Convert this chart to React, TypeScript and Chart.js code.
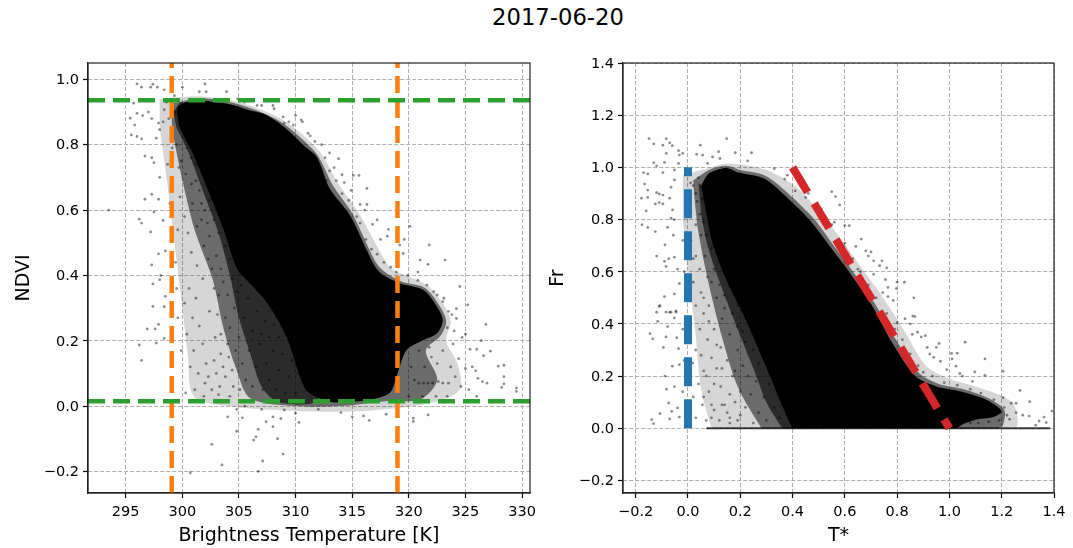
import React, { useEffect, useRef } from "react";
import { Chart, registerables } from "chart.js";

Chart.register(...registerables);

const chartTitle = "2017-06-20";
const FONT = "'DejaVu Sans', sans-serif";

// Left panel
const ndviLimits = { xMin: 291.67, xMax: 330.7, yMin: -0.266, yMax: 1.05 };
const tempMarks = [299.06, 319.0];
const ndviMarks = [0.936, 0.015];

const ndviCore: number[][] = [
  [299.6,.917],[300.3,.93],[301.6,.936],[302.9,.93],[304.2,.924],[306,.905],[307.1,.896],[308.6,.865],[309.8,.829],[310.8,.795],[311.9,.761],[313,.667],[314.8,.584],[316.8,.44],[317.5,.407],[319.2,.376],[321.3,.355],[322.5,.303],[323,.263],[322.5,.223],[321.3,.202],[319.8,.171],[319,.10],[318.3,.04],[316.3,.018],[313.3,.012],[311.7,.03],[310.8,.055],[309.2,.211],[307.5,.315],[305.7,.385],[304.8,.422],[303.6,.544],[302.2,.667],[301,.768],[299.8,.85],[299.5,.899],
];
const ndviDense: number[][] = [
  [299.2,.9],[300,.93],[305,.6],[307,.4],[310,.2],[312,.02],[308.5,.012],[307,.06],[306,.16],[305,.27],[304.2,.4],[303.2,.53],[301.8,.66],[300.5,.78],[299.5,.85],
];
const ndviHalo: number[][] = [
  [299,.925],[301.6,.942],[304.2,.93],[306,.912],[308.6,.872],[310,.835],[311.9,.77],[313.3,.675],[315,.59],[317,.445],[317.8,.413],[319.3,.382],[321.4,.362],[322.7,.308],[323.3,.26],[322.8,.215],[321.5,.17],[322.5,.08],[321,.02],[318,.015],[314,.0],[310,.0],[306,.024],[304.8,.11],[303.6,.242],[302.7,.385],[301.1,.538],[300,.691],[299.1,.844],
];
const ndviSparse: number[][] = [
  [298,.94],[301.6,.948],[304.2,.936],[306,.92],[308.6,.882],[310.3,.84],[312.2,.775],[313.7,.685],[315.6,.59],[317.5,.47],[318.5,.42],[321.5,.372],[323,.315],[323.7,.26],[323.3,.2],[324.3,.13],[324.5,.05],[322,.01],[316,-.015],[310,-.015],[304,.0],[301,.03],[300.5,.15],[300,.3],[299.3,.5],[298.6,.7],[298,.85],
];
const ndviPoints: number[][] = [
  [296,.986],[296.4,.976],[297.4,.985],[297.2,.976],[297.8,.976],[298.4,.968],[300,.976],[302,.986],[301.5,.962],[302.1,.962],[303.9,.962],[295.7,.927],[296,.896],[295.4,.881],[296.5,.889],[297,.9],[297.3,.88],[295.8,.86],[295.5,.83],[296,.825],[296.4,.818],[298,.846],[297.7,.82],[298.3,.87],[298.4,.907],[297.9,.866],[296.7,.765],[297.3,.76],[297.5,.745],[298,.70],[296.7,.633],[297.3,.648],[297.9,.633],[297.5,.595],[293.5,.60],[296.2,.572],[296.4,.56],[297.2,.533],[298.3,.568],[297.9,.466],[297.3,.432],[298.5,.475],
  [297.4,.374],[298,.387],[298.1,.40],[298.5,.336],[297.4,.305],[298.4,.304],[296.9,.236],[297.6,.236],[297.9,.25],[298.4,.207],[297.7,.193],[296.2,.187],[296.4,.14],[300.7,-.204],[302.6,-.117],[303.5,-.18],[306.7,-.2],[307.1,-.168],[308.9,-.147],[308.4,-.10],[306.5,-.094],[306.3,-.104],[306.7,-.071],[304.8,-.077],[305.3,-.036],[304,-.033],[308,-.063],[310.3,-.05],[308,-.033],[308.7,-.038],[307.4,-.048],[310,-.022],
  [324.5,.366],[325.2,.31],[326.8,.25],[326.4,.2],[326,.174],[325.4,.174],[327.2,.168],[326.6,.154],[327.9,.122],[328.4,.125],[325.6,.12],[325.9,.108],[328.4,.09],[326.1,.085],[326.5,.075],[326.9,.07],[328.4,.068],[329.5,.055],[329.5,.045],[328.2,.057],[326,.03],[325.3,.05],[325,.115],[324.4,.145],[325,.22],[324.7,.21],[324.2,.268],[324.2,.298],[323.1,.33],[322.2,.35],[320.4,-.037],[320.4,-.047],[321.7,-.027],[316.5,-.044],[315,-.033],[319,-.033],
  [315.6,.706],[315.1,.706],[316.3,.666],[316.3,.617],[315.7,.617],[316.1,.6],[320.1,.55],[319.6,.51],[321.8,.493],[319.5,.467],[321,.447],[321.7,.434],[323.2,.447],[320.8,.41],[319.2,.493],[318.2,.541],[317.2,.57],[317.5,.51],[318.1,.52],[314.1,.708],[313.8,.757],[313,.775],[312.3,.80],[311.3,.827],[310.6,.87],[315.4,.58],[316.8,.556],[314.9,.66],[314.3,.684],[313.4,.73],[310,.89],[310.5,.876],[309.8,.86],[309,.866],[308,.92],[306.6,.92],[308.1,.91],
  [300.2,.315],[300.6,.36],[300.9,.27],[301.2,.33],[300.4,.22],[301.5,.245],[301,.17],[301.8,.19],[300.7,.12],[301.4,.10],[302.1,.13],[302,.07],[302.6,.05],[303,.10],[303.2,.035],[302.4,.29],[302.9,.21],[303.4,.16],[301.8,.39],[301.3,.43],[300.8,.47],[300.5,.53],[300.2,.58],[300.9,.62],[301.3,.55],[301.9,.49],[302.3,.45],[299.8,.64],[299.6,.54],[299.4,.44],[299.5,.36],[299.6,.27],[299.9,.17],[298.9,.62],[298.7,.74],[299.1,.79],[299.7,.73],[300.3,.71],[300.8,.76],[304.2,.03],[304.5,.06],[303.8,.09],[304.1,.15],[303.1,.28],[302.8,.36],[302.2,.56],[301.7,.62],[301.2,.69],[300.7,.83],[298.8,.88],[298.6,.93],[299.3,.95],
  [320.2,.12],[320.5,.08],[320.9,.07],[321.3,.07],[321.7,.07],[322.1,.07],[322.6,.075],[323,.07],[323.5,.07],[321.4,.12],[322,.15],[322.5,.13],[323,.17],[323.7,.12],[324.1,.09],[324.6,.06],[320.9,.17],[321.8,.18],[323.9,.19],[324,.23],[323.8,.28],[320,.03],[321.2,.03],[322.4,.03],[323.4,.03],[312,-.01],[314,-.02],[316,-.03],[318,-.025],[309,-.012],[307,-.01],[305.5,.0],[304.8,-.01],
  [300.3,.04],[301.1,.05],[301.9,.03],[302.3,.09],[302.8,.14],[303.3,.06],[303.6,.12],[304,.19],[304.4,.11],[304.7,.17],[305.1,.05],[305.3,.13],[305.6,.08],[305.9,.17],[306.2,.06],[306.5,.12],[306.8,.19],[307.1,.05],[307.4,.13],[307.7,.08],[308,.17],[308.3,.05],[308.5,.11],[308.8,.16],[309.1,.04],[309.4,.09],[309.7,.14],[310,.04],[310.3,.1],
  [303.4,.22],[303.8,.27],[304.2,.24],[304.6,.3],[305,.21],[305.4,.27],[305.8,.33],[306.2,.23],[306.6,.29],[307,.22],[307.3,.26],[307.7,.21],[308.1,.25],[308.5,.21],[303.2,.34],[303.6,.38],[304,.34],[304.4,.39],[304.8,.35],[305.2,.37],[302.6,.42],[303,.46],[303.4,.42],[303.8,.49],[304.2,.45],[302.4,.52],[302.8,.57],[303.2,.53],[301.7,.57],[302,.6],[301.5,.66],[301.9,.71],[302.4,.63],[300.8,.68],[301.2,.74],[300.4,.79],[300.9,.81],[300.1,.85],[299.8,.88],[299.3,.9],[299.5,.8],[299.9,.75],
  [311.1,.835],[311.7,.81],[312.6,.76],[313,.72],[313.6,.69],[314.1,.65],[314.7,.63],[315.1,.56],[315.7,.56],[316.2,.51],[316.7,.48],[317.2,.465],[317.8,.44],[318.4,.425],[318.9,.41],[315.5,.53],[316.3,.47],[312.2,.72],[312.7,.69],[319.9,.40],[320.8,.385],[321.6,.37],[322.5,.34],[323,.32],[323.5,.29],[323.4,.24],[307,.92],[308.9,.885],[309.4,.87],[304.9,.94],[305.5,.93],
];

// Right panel
const frLimits = { xMin: -0.2486, xMax: 1.4, yMin: -0.248, yMax: 1.4 };
const wetEdgeX = [0, 0];
const wetEdgeY = [0, 1];
const dryEdgeX = [0.4, 1];
const dryEdgeY = [1, 0];
const baselineX = [0.07, 1.385];
const baselineY = [0, 0];

const frCore: number[][] = [
  [.055,.939],[.082,.978],[.147,.998],[.196,.979],[.273,.964],[.311,.945],[.388,.876],[.464,.80],[.552,.685],[.618,.597],[.706,.467],[.78,.33],[.87,.2],[.948,.161],[1.047,.14],[1.139,.11],[1.2,.065],[1.166,.042],[1.104,.034],[1.05,.015],[1.03,.002],[1.02,0],[.9,0],[.7,0],[.5,0],[.41,0],[.398,.002],[.298,.237],[.22,.417],[.146,.57],[.093,.712],[.07,.826],[.051,.927],
];
const frDense: number[][] = [
  [.04,.94],[.1,.9],[.3,.6],[.45,.3],[.5,.002],[.49,0],[.37,0],[.36,.002],[.3,.1],[.25,.23],[.19,.38],[.125,.55],[.075,.7],[.05,.82],
];
const frHalo: number[][] = [
  [.02,.95],[.08,.99],[.147,1.006],[.2,.99],[.28,.975],[.325,.95],[.4,.885],[.48,.805],[.565,.69],[.635,.595],[.72,.47],[.795,.34],[.88,.215],[.96,.17],[1.055,.15],[1.15,.115],[1.21,.07],[1.205,.012],[1.19,.002],[1.18,0],[.8,0],[.4,0],[.29,0],[.28,.002],[.19,.16],[.13,.35],[.08,.55],[.04,.75],[.025,.88],
];
const frSparse: number[][] = [
  [-.02,.97],[.07,.995],[.15,1.015],[.3,.99],[.42,.92],[.51,.82],[.59,.72],[.66,.62],[.74,.51],[.83,.37],[.91,.24],[1.0,.19],[1.1,.16],[1.24,.1],[1.26,.01],[1.22,.002],[1.2,0],[.7,0],[.1,0],[.09,.002],[.05,.15],[.03,.35],[.0,.6],[-.02,.8],
];
const frPoints: number[][] = [
  [-.149,1.11],[-.083,1.11],[-.131,1.09],[-.096,1.085],[-.07,1.094],[-.06,1.083],[-.083,1.054],[-.036,1.064],[-.02,1.054],[-.033,1.047],[.047,1.085],[.148,1.11],[.033,1.05],[.056,1.047],[.094,1.04],[.117,1.06],[.122,1.034],[.181,1.056],[.243,1.056],[.228,1.025],[.075,1.015],[-.131,1.018],[-.12,1.006],[-.09,1.019],[-.036,1.015],[-.17,.98],[-.154,.975],[-.096,.98],[-.052,.99],[-.166,.936],[-.154,.913],[-.12,.903],[-.11,.898],[-.178,.882],[-.154,.885],[-.096,.894],[-.07,.882],[-.125,.86],[-.11,.865],[-.16,.833],[-.096,.86],[-.065,.924],[-.052,.952],[-.059,.837],[-.065,.805],[-.052,.8],[-.176,.78],[-.154,.77],[-.125,.754],[-.078,.77],[-.056,.74],[-.088,.703],[-.12,.66],[-.09,.64],[-.074,.65],[-.052,.656],[-.084,.62],[-.04,.61],[-.033,.555],[-.052,.515],[-.09,.505],[-.107,.47],[-.12,.445],[-.084,.445],[-.07,.445],[-.046,.45],[-.052,.423],
  [-.11,.467],[-.065,.445],[-.046,.445],[-.116,.41],[-.078,.39],[-.145,.363],[-.135,.343],[-.084,.35],[-.094,.31],[-.043,.347],[-.036,.305],[-.06,.238],[-.033,.244],[-.088,.2],[-.082,.15],[-.052,.16],[-.074,.097],[-.107,.056],[-.062,.065],[-.033,.043],[-.07,.036],[-.139,.033],[-.132,.018],[-.04,.078],
  [.55,.907],[.564,.888],[.58,.856],[.56,.79],[.6,.777],[.617,.777],[.663,.725],[.642,.697],[.68,.68],[.70,.676],[.69,.66],[.71,.642],[.742,.642],[.733,.623],[.76,.615],[.71,.59],[.755,.57],[.8,.56],[.828,.56],[.797,.535],[.765,.54],[.745,.52],[.765,.505],[.864,.5],[.785,.49],[.83,.42],[.86,.43],[.868,.428],[.85,.4],[.80,.405],[.878,.368],[.908,.355],[.858,.36],[.892,.35],[.96,.325],[.95,.31],[1.06,.33],[.915,.31],[1.008,.287],[1.03,.288],[1.01,.266],[1.136,.266],[.925,.285],[.94,.272],[.966,.257],[.99,.225],[1.025,.238],[1.04,.21],[1.05,.2],[1.097,.216],[1.136,.203],[1.205,.219],[1.088,.18],[1.27,.145],[1.205,.117],[1.307,.102],[1.392,.066],[1.255,.096],[1.236,.096],[1.28,.05],[1.305,.047],[1.343,.028],[1.362,.043],[1.33,.012],[1.37,.022],[1.255,.06],[1.23,.035],
  [.02,.93],[.035,.87],[.01,.83],[.03,.78],[.012,.72],[.03,.66],[.045,.61],[.02,.56],[.05,.52],[.03,.47],[.06,.44],[.08,.47],[.045,.38],[.075,.34],[.03,.3],[.09,.27],[.06,.22],[.11,.23],[.04,.17],[.08,.14],[.125,.16],[.055,.09],[.1,.07],[.14,.09],[.03,.04],[.07,.03],[.12,.03],[.16,.04],[.02,.12],[.018,.25],[.01,.37],[.02,.65],[.1,.38],[.125,.31],[.15,.26],[.17,.2],[.13,.42],[.11,.5],[.075,.58],[.065,.66],[.05,.74],[.045,.82],[.18,.1],[.2,.05],[.16,.02],[.01,.94],[-.01,.88],[-.02,.72],[-.015,.6],[-.01,.5],[-.02,.38],[-.015,.26],[-.02,.14],[-.01,.05],[.33,.995],[.38,.97],[.43,.93],[.46,.9],[.51,.84],[.55,.78],[.6,.71],[.63,.65],[.66,.6],
  [.09,.04],[.15,.06],[.19,.03],[.22,.08],[.25,.02],[.27,.06],[.3,.03],[.33,.08],[.35,.04],[.24,.13],[.2,.14],[.26,.18],[.29,.12],[.31,.17],[.34,.13],[.36,.09],[.38,.05],[.16,.13],[.13,.09],[.18,.22],[.21,.24],[.23,.2],[.27,.25],[.19,.3],[.22,.33],[.25,.3],[.16,.36],[.19,.39],[.21,.37],[.14,.46],[.17,.44],[.19,.47],[.12,.55],[.14,.51],[.1,.61],[.12,.65],[.09,.69],[.07,.74],[.06,.79],[.055,.88],[.03,.9],[.04,.96],[.09,.56],[.06,.5],[.08,.41],[.11,.32],[.13,.23],[.05,.28],[.07,.2],[.1,.17],[.06,.12],[.09,.09],
  [.37,.955],[.41,.91],[.45,.885],[.49,.84],[.53,.78],[.57,.72],[.61,.67],[.65,.61],[.69,.55],[.72,.5],[.76,.44],[.79,.38],[.82,.34],[.85,.285],[.88,.24],[.9,.215],[.935,.2],[.98,.175],[1.03,.165],[1.08,.15],[1.12,.135],[1.17,.11],[1.21,.08],[1.22,.05],[1.19,.03],[1.15,.025],[1.11,.02],[1.08,.02],
];

const POINT_COLOR = "rgba(0,0,0,0.45)";
const GRID = "#b0b0b0";
const SPINE = "#222222";

const areaFrame = {
  id: "areaFrame",
  afterDraw(chart: any) {
    const { ctx, chartArea: a } = chart;
    ctx.save();
    ctx.strokeStyle = SPINE;
    ctx.lineWidth = 1.2;
    ctx.strokeRect(a.left, a.top, a.right - a.left, a.bottom - a.top);
    ctx.restore();
  },
};

const pairs = (xs: number[], ys: number[]) => xs.map((x, i) => ({ x, y: ys[i] }));

const poly = (data: number[][], color: string) => ({
  type: "scatter" as const, data, showLine: true, pointRadius: 0, borderWidth: 0,
  backgroundColor: color, fill: "shape", tension: 0.3,
});
const dashed = (data: any[], color: string, width: number, dash: number[]) => ({
  type: "scatter" as const, data, showLine: true, pointRadius: 0, borderColor: color,
  borderWidth: width, borderDash: dash, borderCapStyle: "butt", fill: false, tension: 0,
});
const dots = (data: number[][]) => ({
  type: "scatter" as const, data, pointRadius: 1.4, pointBorderWidth: 0,
  pointBackgroundColor: POINT_COLOR, showLine: false,
});

const fmt1 = (v: number) => {
  const r = Math.round(v * 10) / 10;
  return (r < 0 ? "\u2212" : "") + Math.abs(r).toFixed(1);
};

function axis(opts: {
  min: number; max: number; step: number; label: string; fmt: (v: number) => string;
  size: number; vertical: boolean; titlePad: number;
}) {
  return {
    type: "linear" as const,
    min: opts.min, max: opts.max,
    title: {
      display: true, text: opts.label, color: "#000",
      font: { family: FONT, size: 19 }, padding: opts.vertical ? { top: opts.titlePad } : { bottom: opts.titlePad },
    },
    border: { color: SPINE, width: 1.2, dash: [4, 2] },
    grid: { color: GRID, lineWidth: 1, tickColor: "#000", tickLength: 5, tickWidth: 1.2, drawTicks: true },
    ticks: {
      stepSize: opts.step, includeBounds: false, autoSkip: false, maxRotation: 0, minRotation: 0,
      color: "#000", font: { family: FONT, size: 14.5 }, padding: opts.vertical ? 4 : 6,
      labelOffset: opts.vertical ? 1 : 0,
      callback: (v: any) => opts.fmt(Number(v)),
    },
    afterFit(s: any) {
      if (opts.vertical) s.width = opts.size; else s.height = opts.size;
      s.paddingLeft = 0; s.paddingRight = 0; s.paddingTop = 0; s.paddingBottom = 0;
    },
  };
}

function useChart(ref: React.RefObject<HTMLCanvasElement | null>, make: (c: HTMLCanvasElement) => Chart) {
  useEffect(() => {
    if (!ref.current) return;
    const c = make(ref.current);
    return () => c.destroy();
  }, []);
}

export default function App() {
  const leftRef = useRef<HTMLCanvasElement>(null);
  const rightRef = useRef<HTMLCanvasElement>(null);

  useChart(leftRef, (el) => new Chart(el, {
    type: "scatter",
    data: {
      datasets: [
        dashed(pairs([ndviLimits.xMin, ndviLimits.xMax], [ndviMarks[0], ndviMarks[0]]), "#2ca02c", 4.5, [17, 8]),
        dashed(pairs([ndviLimits.xMin, ndviLimits.xMax], [ndviMarks[1], ndviMarks[1]]), "#2ca02c", 4.5, [17, 8]),
        dashed(pairs([tempMarks[0], tempMarks[0]], [ndviLimits.yMin, ndviLimits.yMax]), "#ff7f0e", 4.5, [17, 8]),
        dashed(pairs([tempMarks[1], tempMarks[1]], [ndviLimits.yMin, ndviLimits.yMax]), "#ff7f0e", 4.5, [17, 8]),
        poly(ndviCore, "#000"),
        dots(ndviPoints),
        poly(ndviDense, "rgba(0,0,0,0.6)"),
        poly(ndviHalo, "rgba(0,0,0,0.5)"),
        poly(ndviSparse, "rgba(0,0,0,0.16)"),
      ] as any,
    },
    options: {
      animation: false, responsive: false,
      layout: { padding: { left: 0, right: 10, top: 63, bottom: 0 } },
      plugins: { legend: { display: false }, tooltip: { enabled: false } },
      scales: {
        x: axis({ min: ndviLimits.xMin, max: ndviLimits.xMax, step: 5, label: "Brightness Temperature [K]", fmt: (v) => String(Math.round(v)), size: 55, vertical: false, titlePad: 0.5 }),
        y: axis({ min: ndviLimits.yMin, max: ndviLimits.yMax, step: 0.2, label: "NDVI", fmt: fmt1, size: 88, vertical: true, titlePad: 13 }),
      },
    } as any,
    plugins: [areaFrame],
  }));

  useChart(rightRef, (el) => new Chart(el, {
    type: "scatter",
    data: {
      datasets: [
        dashed(pairs(dryEdgeX, dryEdgeY), "#d62728", 8, [29, 13]),
        dashed(pairs(wetEdgeX, wetEdgeY), "#1f77b4", 8, [29, 13]),
        poly(frCore, "#000"),
        dots(frPoints),
        dashed(pairs(baselineX, baselineY), "rgba(0,0,0,0.75)", 2, []),
        poly(frDense, "rgba(0,0,0,0.6)"),
        poly(frHalo, "rgba(0,0,0,0.5)"),
        poly(frSparse, "rgba(0,0,0,0.16)"),
      ] as any,
    },
    options: {
      animation: false, responsive: false,
      layout: { padding: { left: 0, right: 19, top: 63, bottom: 0 } },
      plugins: { legend: { display: false }, tooltip: { enabled: false } },
      scales: {
        x: axis({ min: frLimits.xMin, max: frLimits.xMax, step: 0.2, label: "T*", fmt: fmt1, size: 55, vertical: false, titlePad: 0.5 }),
        y: axis({ min: frLimits.yMin, max: frLimits.yMax, step: 0.2, label: "Fr", fmt: fmt1, size: 83, vertical: true, titlePad: 7 }),
      },
    } as any,
    plugins: [areaFrame],
  }));

  return (
    <div style={{ position: "fixed", left: 0, top: 0, width: 1073, height: 548, background: "#fff", overflow: "hidden" }}>
      <div style={{ position: "absolute", left: 0, width: 1116, top: 3, textAlign: "center", fontFamily: FONT, fontSize: 22.7, lineHeight: "28px", color: "#000" }}>{chartTitle}</div>
      <canvas ref={leftRef} width={540} height={548} style={{ position: "absolute", left: 0, top: 0 }} />
      <canvas ref={rightRef} width={533} height={548} style={{ position: "absolute", left: 540, top: 0 }} />
    </div>
  );
}
